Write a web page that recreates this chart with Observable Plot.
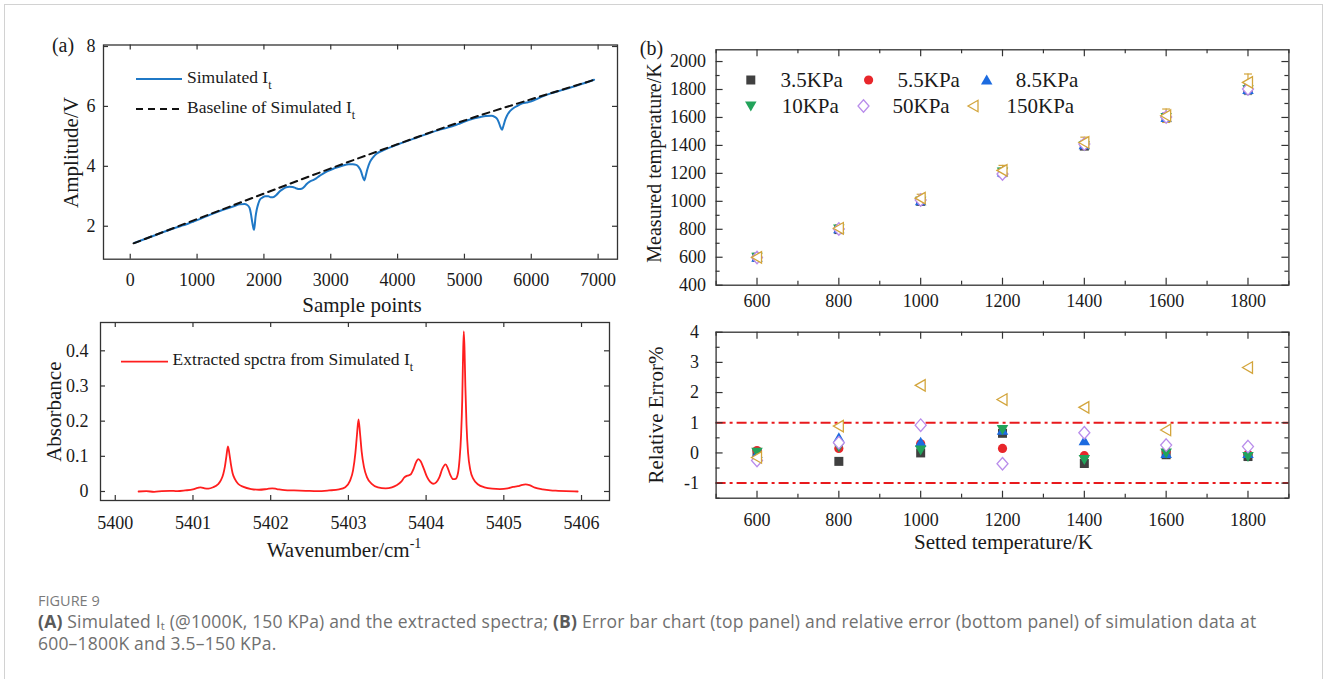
<!DOCTYPE html>
<html>
<head>
<meta charset="utf-8">
<script src="https://cdn.jsdelivr.net/npm/d3@7"></script>
<script src="https://cdn.jsdelivr.net/npm/@observablehq/plot@0.6"></script>
<style>
  body { margin: 0; background: #fff; }
  #fig { position: relative; width: 1328px; height: 679px; overflow: hidden; background: #fff; }
  #fig svg, #fig svg text, #fig svg tspan { font-family: "Liberation Serif", "Times New Roman", serif !important; }
  .panel { position: absolute; }
  #border { position: absolute; left: 4px; top: 4px; width: 1319px; height: 720px; border: 1px solid #d2d2d2; box-sizing: border-box; }
  #overlay { position: absolute; left: 0; top: 0; }
  .cap { position: absolute; left: 38px; font-family: "Open Sans", "Noto Sans", sans-serif; color: #707070; white-space: nowrap; }
  #figlabel { top: 593px; font-size: 14.5px; line-height: 16px; color: #7a7a7a; }
  #captext { top: 610px; font-size: 17.5px; line-height: 22px; letter-spacing: 0.2px; }
  #captext b { color: #5a5a5a; }
  #captext sub { font-size: 11px; vertical-align: -2px; line-height: 0; }
</style>
</head>
<body>
<div id="fig">
  <div id="border"></div>
  <div id="pA1" class="panel" style="left:0px;top:0px"></div>
  <div id="pA2" class="panel" style="left:0px;top:300px"></div>
  <div id="pB1" class="panel" style="left:640px;top:0px"></div>
  <div id="pB2" class="panel" style="left:640px;top:310px"></div>
  <svg id="overlay" width="1328" height="590"></svg>
  <div id="figlabel" class="cap">FIGURE 9</div>
  <div id="captext" class="cap"><b>(A)</b> Simulated I<sub>t</sub> (@1000K, 150 KPa) and the extracted spectra; <b>(B)</b> Error bar chart (top panel) and relative error (bottom panel) of simulation data at<br>600–1800K and 3.5–150 KPa.</div>
</div>
<script>
// ---------------- DATA ----------------
// Panel (a) top: simulated transmitted intensity
const itSample = [60,300,600,760,830,880,950,1030,1200,1400,1550,1640,1710,1750,1785,1805,1822,1838,1850,1862,1874,1893,1917,1941,1980,2017,2066,2100,2136,2185,2234,2283,2332,2380,2430,2478,2527,2563,2600,2636,2685,2734,2783,2831,2880,2953,3050,3172,3270,3330,3380,3416,3453,3477,3502,3526,3550,3587,3636,3684,3782,4000,4300,4600,4760,4846,4940,5100,5230,5320,5405,5453,5490,5514,5538,5563,5587,5611,5636,5672,5721,5794,5868,5929,5990,6063,6200,6500,6800,6940];
const itVolt = [1.44,1.64,1.89,2.01,2.06,2.10,2.16,2.23,2.39,2.56,2.67,2.73,2.74,2.71,2.61,2.42,2.18,1.98,1.88,2.03,2.30,2.56,2.76,2.89,2.96,3.00,3.00,2.97,2.97,3.04,3.16,3.24,3.30,3.32,3.31,3.27,3.24,3.25,3.31,3.40,3.49,3.54,3.60,3.68,3.75,3.84,3.93,4.02,4.07,4.07,4.05,3.98,3.83,3.66,3.53,3.71,3.92,4.15,4.31,4.42,4.53,4.73,4.97,5.20,5.30,5.36,5.44,5.57,5.64,5.68,5.69,5.65,5.58,5.47,5.32,5.22,5.38,5.56,5.69,5.82,5.92,6.02,6.10,6.13,6.16,6.23,6.36,6.57,6.78,6.89];
// baseline of simulated It
const baseSample = [50,1000,2000,3000,4000,5000,6000,6930];
const baseVolt = [1.43,2.24,3.09,3.93,4.74,5.53,6.24,6.88];
const sampleTicks = [0,1000,2000,3000,4000,5000,6000,7000];
const ampTicks = [2,4,6,8];

// Panel (a) bottom: extracted absorbance spectrum
const wavenumber = [5400.30,5400.40,5400.50,5400.60,5400.70,5400.80,5400.90,5401.00,5401.06,5401.10,5401.15,5401.20,5401.26,5401.32,5401.36,5401.39,5401.41,5401.43,5401.45,5401.47,5401.49,5401.51,5401.54,5401.58,5401.65,5401.75,5401.85,5401.95,5402.02,5402.08,5402.18,5402.30,5402.45,5402.60,5402.75,5402.88,5402.96,5403.02,5403.06,5403.09,5403.11,5403.13,5403.15,5403.17,5403.20,5403.24,5403.30,5403.38,5403.48,5403.56,5403.62,5403.68,5403.72,5403.76,5403.80,5403.84,5403.87,5403.90,5403.93,5403.97,5404.01,5404.05,5404.09,5404.13,5404.17,5404.21,5404.25,5404.28,5404.31,5404.35,5404.38,5404.41,5404.43,5404.45,5404.465,5404.475,5404.485,5404.495,5404.505,5404.52,5404.54,5404.57,5404.61,5404.67,5404.75,5404.85,5404.95,5405.05,5405.12,5405.18,5405.24,5405.28,5405.33,5405.40,5405.50,5405.60,5405.70,5405.80,5405.95];
const absorbance = [0.000,0.001,-0.001,0.001,0.002,0.001,0.003,0.006,0.010,0.012,0.009,0.008,0.012,0.020,0.032,0.050,0.070,0.100,0.128,0.105,0.075,0.052,0.035,0.022,0.013,0.007,0.005,0.007,0.009,0.007,0.004,0.003,0.002,0.001,0.003,0.006,0.012,0.030,0.060,0.110,0.160,0.205,0.165,0.115,0.070,0.040,0.022,0.012,0.009,0.012,0.018,0.028,0.040,0.045,0.048,0.065,0.083,0.092,0.086,0.065,0.042,0.028,0.022,0.026,0.040,0.065,0.077,0.066,0.048,0.035,0.036,0.052,0.090,0.160,0.260,0.380,0.455,0.400,0.300,0.190,0.110,0.060,0.035,0.020,0.012,0.008,0.007,0.009,0.013,0.015,0.019,0.020,0.018,0.011,0.006,0.003,0.002,0.001,0.000];
const wnTicks = [5400,5401,5402,5403,5404,5405,5406];
const absTicks = [0,0.1,0.2,0.3,0.4];

// Panel (b)
const setTemps = [600,800,1000,1200,1400,1600,1800];
const pressures = ["3.5KPa","5.5KPa","8.5KPa","10KPa","50KPa","150KPa"];
// measured temperature (K)
const measured35  = [600.0,797.8,1000.0,1207.8,1395.1,1599.2,1798.2];
const measured55  = [600.5,801.2,1003.0,1201.8,1398.6,1600.8,1799.1];
const measured85  = [599.9,803.6,1003.5,1209.0,1405.6,1599.7,1799.6];
const measured10  = [599.9,801.6,1001.0,1209.0,1397.2,1600.0,1798.2];
const measured50  = [598.5,802.8,1009.2,1195.8,1409.4,1604.0,1803.6];
const measured150 = [599.1,807.0,1022.5,1221.2,1421.0,1612.3,1850.9];
// error bar half-lengths (K)
const sd35  = [12,14,16,18,22,26,30];
const sd55  = [13,15,17,19,23,27,31];
const sd85  = [12,15,18,20,24,28,33];
const sd10  = [14,16,18,21,25,29,34];
const sd50  = [15,17,20,22,27,31,36];
const sd150 = [25,25,28,36,38,48,60];
// relative error (%)
const relErr35  = [0.00,-0.28,0.00,0.65,-0.35,-0.06,-0.12];
const relErr55  = [0.08,0.15,0.30,0.15,-0.09,0.05,-0.04];
const relErr85  = [-0.02,0.50,0.35,0.75,0.40,-0.02,-0.02];
const relErr10  = [0.02,0.20,0.10,0.78,-0.22,0.00,-0.12];
const relErr50  = [-0.25,0.34,0.92,-0.36,0.67,0.26,0.21];
const relErr150 = [-0.15,0.89,2.24,1.77,1.51,0.76,2.83];
const limitLines = [1,-1];
const tempTicks = [600,800,1000,1200,1400,1600,1800];
const tempMinor = [500,700,900,1100,1300,1500,1700,1900];
const measTicks = [400,600,800,1000,1200,1400,1600,1800,2000];
const measMinor = [500,700,900,1100,1300,1500,1700,1900];
const errTicks = [-1,0,1,2,3,4];
const errMinor = [-1.5,-0.5,0.5,1.5,2.5,3.5];

// ---------------- STYLE ----------------
const SERIF = "Liberation Serif";
const AX = "#333";
const sqrtA = s => Math.sqrt(s / Math.PI);
const symSquare = {draw(c, s){const h = 0.9*sqrtA(s); c.moveTo(-h,-h); c.lineTo(h,-h); c.lineTo(h,h); c.lineTo(-h,h); c.closePath();}};
const symCircle = {draw(c, s){const r = 0.92*sqrtA(s); c.moveTo(r,0); c.arc(0,0,r,0,2*Math.PI); c.closePath();}};
const symUp = {draw(c, s){const r = sqrtA(s); c.moveTo(0,-1.1*r); c.lineTo(1.15*r,0.9*r); c.lineTo(-1.15*r,0.9*r); c.closePath();}};
const symDown = {draw(c, s){const r = sqrtA(s); c.moveTo(0,1.1*r); c.lineTo(1.15*r,-0.9*r); c.lineTo(-1.15*r,-0.9*r); c.closePath();}};
const symDiamond = {draw(c, s){const r = sqrtA(s); c.moveTo(0,-1.25*r); c.lineTo(1.1*r,0); c.lineTo(0,1.25*r); c.lineTo(-1.1*r,0); c.closePath();}};
const symLeft = {draw(c, s){const r = sqrtA(s); c.moveTo(-1.1*r,0); c.lineTo(0.9*r,-1.15*r); c.lineTo(0.9*r,1.15*r); c.closePath();}};
const symCap = {draw(c, s){const r = sqrtA(s); c.moveTo(-r,0); c.lineTo(r,0);}};

const seriesStyle = [
  {symbol: symSquare,  color: "#404040", hollow: false},
  {symbol: symCircle,  color: "#E8262B", hollow: false},
  {symbol: symUp,      color: "#1C6BE0", hollow: false},
  {symbol: symDown,    color: "#22A35A", hollow: false},
  {symbol: symDiamond, color: "#B98DEB", hollow: true},
  {symbol: symLeft,    color: "#D3A53C", hollow: true}
];
const measuredAll = [measured35, measured55, measured85, measured10, measured50, measured150];
const sdAll = [sd35, sd55, sd85, sd10, sd50, sd150];
const relErrAll = [relErr35, relErr55, relErr85, relErr10, relErr50, relErr150];
const seriesRows = pressures.map((p, i) => setTemps.map((T, j) => ({p, T, meas: measuredAll[i][j], sd: sdAll[i][j], err: relErrAll[i][j]})));

function baseStyle() {
  return {fontFamily: SERIF, fontSize: "18px", color: "#1a1a1a", background: "transparent", overflow: "visible"};
}
// explicit axes (serif tick labels)
function axes(xTicks, yTicks, xPad, yPad) {
  return [
    Plot.axisX(xTicks, {tickSize: 0, tickPadding: xPad, tickFormat: d => String(d), label: null, fontFamily: SERIF, fontSize: 18}),
    Plot.axisY(yTicks, {tickSize: 0, tickPadding: yPad, tickFormat: d => String(d), label: null, fontFamily: SERIF, fontSize: 18})
  ];
}
// inward tick marks on all four sides
function innerTicks(xVals, yVals, fw, fh, len) {
  const o = {stroke: AX, strokeWidth: 1.2};
  const m = [];
  if (xVals) {
    m.push(Plot.tickX(xVals, {x: d => d, insetTop: fh - len, ...o}));
    m.push(Plot.tickX(xVals, {x: d => d, insetBottom: fh - len, ...o}));
  }
  if (yVals) {
    m.push(Plot.tickY(yVals, {y: d => d, insetRight: fw - len, ...o}));
    m.push(Plot.tickY(yVals, {y: d => d, insetLeft: fw - len, ...o}));
  }
  return m;
}

// ---------------- PANEL (a) top ----------------
{
  const W = 640, H = 300, mL = 103, mR = 23, mT = 44.5, mB = 41.3;
  const fw = W - mL - mR, fh = H - mT - mB;
  const chart = Plot.plot({
    width: W, height: H, marginLeft: mL, marginRight: mR, marginTop: mT, marginBottom: mB,
    style: baseStyle(),
    x: {domain: [-400, 7290]},
    y: {domain: [0.9, 8.05]},
    marks: [
      ...axes(sampleTicks, ampTicks, 14, 8),
      Plot.line(itVolt, {x: itSample, y: itVolt, stroke: "#1F78C6", strokeWidth: 2, curve: "monotone-x"}),
      Plot.line(baseVolt, {x: baseSample, y: baseVolt, stroke: "#111", strokeWidth: 2, strokeDasharray: "7,5", curve: "monotone-x"}),
      ...innerTicks(sampleTicks, ampTicks, fw, fh, 5),
      Plot.frame({stroke: AX, strokeWidth: 1.3})
    ]
  });
  document.getElementById("pA1").appendChild(chart);
}

// ---------------- PANEL (a) bottom ----------------
{
  const W = 640, H = 260, mL = 100, mR = 31, mT = 22, mB = 60;
  const fw = W - mL - mR, fh = H - mT - mB;
  const chart = Plot.plot({
    width: W, height: H, marginLeft: mL, marginRight: mR, marginTop: mT, marginBottom: mB,
    style: baseStyle(),
    x: {domain: [5399.81, 5406.36]},
    y: {domain: [-0.0256, 0.4805]},
    marks: [
      ...axes(wnTicks, absTicks, 16, 12),
      Plot.line(absorbance, {x: wavenumber, y: absorbance, stroke: "#FF1E1E", strokeWidth: 1.8, curve: "monotone-x"}),
      ...innerTicks(wnTicks, absTicks, fw, fh, 5),
      Plot.frame({stroke: AX, strokeWidth: 1.3})
    ]
  });
  document.getElementById("pA2").appendChild(chart);
}

// ---------------- PANEL (b) top ----------------
{
  const W = 688, H = 310, mL = 75.6, mR = 39.6, mT = 49.3, mB = 25.3;
  const fw = W - mL - mR, fh = H - mT - mB;
  const marks = [];
  seriesRows.forEach((rows, i) => {
    const st = seriesStyle[i];
    marks.push(Plot.ruleX(rows, {x: "T", y1: d => d.meas - d.sd, y2: d => d.meas + d.sd, stroke: st.color, strokeWidth: 1.2}));
    marks.push(Plot.dot(rows, {x: "T", y: d => d.meas + d.sd, symbol: symCap, r: 4, stroke: st.color, fill: "none", strokeWidth: 1.2}));
    marks.push(Plot.dot(rows, {x: "T", y: d => d.meas - d.sd, symbol: symCap, r: 4, stroke: st.color, fill: "none", strokeWidth: 1.2}));
  });
  seriesRows.forEach((rows, i) => {
    const st = seriesStyle[i];
    marks.push(Plot.dot(rows, st.hollow
      ? {x: "T", y: "meas", symbol: st.symbol, r: 5, fill: "white", stroke: st.color, strokeWidth: 1.3}
      : {x: "T", y: "meas", symbol: st.symbol, r: 5, fill: st.color, stroke: "none"}));
  });
  const chart = Plot.plot({
    width: W, height: H, marginLeft: mL, marginRight: mR, marginTop: mT, marginBottom: mB,
    style: baseStyle(),
    x: {domain: [500, 1900]},
    y: {domain: [400, 2084]},
    marks: [
      ...axes(tempTicks, measTicks, 9, 10),
      ...marks,
      ...innerTicks(tempTicks, measTicks, fw, fh, 7),
      ...innerTicks(tempMinor, measMinor, fw, fh, 4),
      Plot.frame({stroke: AX, strokeWidth: 1.3})
    ]
  });
  document.getElementById("pB1").appendChild(chart);
}

// ---------------- PANEL (b) bottom ----------------
{
  const W = 688, H = 250, mL = 75.6, mR = 39.6, mT = 21.7, mB = 62.3;
  const fw = W - mL - mR, fh = H - mT - mB;
  const marks = [Plot.ruleY(limitLines, {y: d => d, stroke: "#E8191C", strokeWidth: 2, strokeDasharray: "10,4,3,4"})];
  seriesRows.forEach((rows, i) => {
    const st = seriesStyle[i];
    marks.push(Plot.dot(rows, st.hollow
      ? {x: "T", y: "err", symbol: st.symbol, r: 5, fill: "white", stroke: st.color, strokeWidth: 1.3}
      : {x: "T", y: "err", symbol: st.symbol, r: 5, fill: st.color, stroke: "none"}));
  });
  const chart = Plot.plot({
    width: W, height: H, marginLeft: mL, marginRight: mR, marginTop: mT, marginBottom: mB,
    style: baseStyle(),
    x: {domain: [500, 1900]},
    y: {domain: [-1.5, 4]},
    marks: [
      ...axes(tempTicks, errTicks, 15, 17),
      ...marks,
      ...innerTicks(tempTicks, errTicks, fw, fh, 7),
      ...innerTicks(tempMinor, errMinor, fw, fh, 4),
      Plot.frame({stroke: AX, strokeWidth: 1.3})
    ]
  });
  document.getElementById("pB2").appendChild(chart);
}

// ---------------- OVERLAY TEXT / LEGENDS ----------------
{
  const ov = d3.select("#overlay").attr("font-family", SERIF).attr("fill", "#1a1a1a");
  function label(x, y, str, size, rotate) {
    const t = ov.append("text").attr("font-size", size).attr("text-anchor", "middle")
      .attr("transform", `translate(${x},${y})` + (rotate ? " rotate(-90)" : ""));
    t.text(str);
    return t;
  }
  // panel letters
  label(63, 52, "(a)", 20);
  label(651.5, 55, "(b)", 20);
  // axis titles
  label(78, 152.5, "Amplitude/V", 21, true);
  label(362, 312, "Sample points", 21);
  label(61, 411.7, "Absorbance", 21, true);
  const wn = label(344, 557, "Wavenumber/cm", 21);
  wn.append("tspan").attr("font-size", 14).attr("dy", -9).text("-1");
  label(661, 163, "Measured temperature/K", 20, true);
  label(663, 415, "Relative Error%", 21, true);
  label(1003.5, 549, "Setted temperature/K", 21);

  // legend (a) top
  ov.append("line").attr("x1", 136).attr("x2", 182).attr("y1", 79).attr("y2", 79)
    .attr("stroke", "#1F78C6").attr("stroke-width", 2);
  const l1 = ov.append("text").attr("x", 187).attr("y", 83).attr("font-size", 17.5).text("Simulated I");
  l1.append("tspan").attr("font-size", 12).attr("dy", 6).text("t");
  ov.append("line").attr("x1", 136).attr("x2", 182).attr("y1", 109).attr("y2", 109)
    .attr("stroke", "#111").attr("stroke-width", 2).attr("stroke-dasharray", "7,5");
  const l2 = ov.append("text").attr("x", 187).attr("y", 113).attr("font-size", 17.5).text("Baseline of Simulated I");
  l2.append("tspan").attr("font-size", 12).attr("dy", 6).text("t");

  // legend (a) bottom
  ov.append("line").attr("x1", 121).attr("x2", 168).attr("y1", 361.7).attr("y2", 361.7)
    .attr("stroke", "#FF1E1E").attr("stroke-width", 1.8);
  const l3 = ov.append("text").attr("x", 172.6).attr("y", 365).attr("font-size", 17.5).text("Extracted spctra from Simulated I");
  l3.append("tspan").attr("font-size", 12).attr("dy", 6).text("t");

  // legend (b)
  const legPos = [
    {sx: 750.8, tx: 780.5, y: 80},
    {sx: 868.6, tx: 897.5, y: 80},
    {sx: 986.7, tx: 1015.8, y: 80},
    {sx: 750.8, tx: 781.7, y: 106},
    {sx: 863.5, tx: 892.5, y: 106},
    {sx: 973.5, tx: 1006.5, y: 106}
  ];
  pressures.forEach((p, i) => {
    const st = seriesStyle[i], pos = legPos[i];
    const path = d3.symbol().type(st.symbol).size(Math.PI * 25)();
    ov.append("path").attr("d", path).attr("transform", `translate(${pos.sx},${pos.y})`)
      .attr("fill", st.hollow ? "white" : st.color).attr("stroke", st.hollow ? st.color : "none").attr("stroke-width", 1.3);
    ov.append("text").attr("x", pos.tx).attr("y", pos.y + 7).attr("font-size", 21).text(p);
  });
}
// make sure every chart text uses the serif face
document.querySelectorAll("#fig svg, #fig svg text, #fig svg tspan, #fig svg g").forEach(n => {
  n.setAttribute("font-family", SERIF);
  n.style.setProperty("font-family", '"Liberation Serif", serif', "important");
});
</script>
</body>
</html>
